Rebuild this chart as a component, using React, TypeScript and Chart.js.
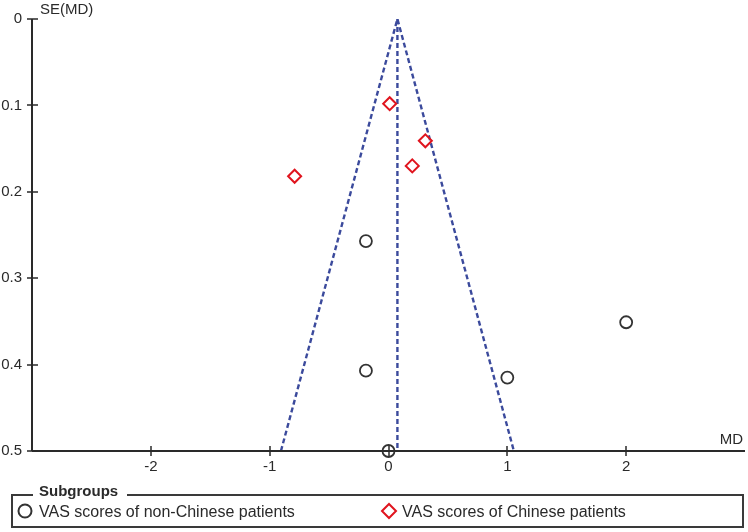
import React, { useEffect, useRef } from 'react';
import { Chart, registerables } from 'chart.js';

Chart.register(...registerables);

// ---- data ----
const nonChineseMD = [-0.19, -0.19, 0.0, 1.0, 2.0];
const nonChineseSE = [0.257, 0.407, 0.5, 0.415, 0.351];
const chineseMD = [0.01, 0.31, 0.2, -0.79];
const chineseSE = [0.098, 0.141, 0.17, 0.182];
const funnelMD = [-0.905, 0.075, 1.055];
const funnelSE = [0.5, 0, 0.5];
const pooledMD = [0.075, 0.075];
const pooledSE = [0, 0.5];
const xTickValues = [-2, -1, 0, 1, 2];
const yTickValues = [0, 0.1, 0.2, 0.3, 0.4, 0.5];
const yTickLabels = ['0', '0.1', '0.2', '0.3', '0.4', '0.5'];
const seriesLabels = ['VAS scores of non-Chinese patients', 'VAS scores of Chinese patients'];
const legendTitle = 'Subgroups';
const xTitle = 'MD';
const yTitle = 'SE(MD)';

const FONT = '"Liberation Sans", Arial, sans-serif';
const INK = '#2a2a2a';

const overlay = {
  id: 'funnelOverlay',
  afterDraw(chart: any) {
    const ctx = chart.ctx;
    const { left, right, top, bottom } = chart.chartArea;
    const xs = chart.scales.x;
    const ys = chart.scales.y;
    ctx.save();
    ctx.strokeStyle = INK;
    ctx.lineWidth = 2;
    // axes
    ctx.beginPath();
    ctx.moveTo(left, top);
    ctx.lineTo(left, bottom);
    ctx.moveTo(left, bottom);
    ctx.lineTo(right, bottom);
    ctx.stroke();
    // ticks crossing axes
    ctx.lineWidth = 1.5;
    ctx.beginPath();
    yTickValues.forEach((v) => {
      const y = Math.round(ys.getPixelForValue(v));
      ctx.moveTo(left - 5, y);
      ctx.lineTo(left + 6, y);
    });
    xTickValues.forEach((v) => {
      const x = Math.round(xs.getPixelForValue(v));
      ctx.moveTo(x, bottom - 5);
      ctx.lineTo(x, bottom + 5);
    });
    ctx.stroke();
    // axis titles
    ctx.fillStyle = INK;
    ctx.font = `15px ${FONT}`;
    ctx.textBaseline = 'middle';
    ctx.textAlign = 'left';
    ctx.fillText(yTitle, left + 8, top - 9);
    ctx.textAlign = 'right';
    ctx.fillText(xTitle, 743, bottom - 11);

    // legend box
    const bl = 12, bt = 495, br = 743, bb = 527;
    ctx.strokeStyle = '#3a3a3a';
    ctx.lineWidth = 2;
    ctx.beginPath();
    ctx.moveTo(33, bt);
    ctx.lineTo(bl, bt);
    ctx.lineTo(bl, bb);
    ctx.lineTo(br, bb);
    ctx.lineTo(br, bt);
    ctx.lineTo(127, bt);
    ctx.stroke();
    ctx.font = `bold 15px ${FONT}`;
    ctx.textAlign = 'left';
    ctx.fillText(legendTitle, 39, 492);

    const items = [
      { mx: 25, tx: 39 },
      { mx: 389, tx: 402 },
    ];
    ctx.font = `16px ${FONT}`;
    items.forEach((it, i) => {
      const ds = chart.data.datasets[i];
      const my = 511;
      ctx.strokeStyle = ds.borderColor;
      ctx.lineWidth = 2;
      ctx.beginPath();
      if (ds.pointStyle === 'rectRot') {
        const r = 7;
        ctx.moveTo(it.mx - r, my);
        ctx.lineTo(it.mx, my - r);
        ctx.lineTo(it.mx + r, my);
        ctx.lineTo(it.mx, my + r);
        ctx.closePath();
      } else {
        ctx.arc(it.mx, my, 6.5, 0, Math.PI * 2);
      }
      ctx.stroke();
      ctx.fillStyle = INK;
      ctx.fillText(seriesLabels[i], it.tx, my + 2);
    });
    ctx.restore();
  },
};

export default function App() {
  const ref = useRef<HTMLCanvasElement>(null);
  useEffect(() => {
    if (!ref.current) return;
    const dashed = {
      showLine: true,
      pointRadius: 0,
      borderColor: '#3b4a9c',
      borderWidth: 2.4,
      borderDash: [5, 3],
      fill: false,
      clip: false,
    };
    const chart = new Chart(ref.current, {
      type: 'scatter',
      data: {
        datasets: [
          {
            label: seriesLabels[0],
            data: nonChineseMD.map((x, i) => ({ x, y: nonChineseSE[i] })),
            pointStyle: 'circle',
            pointRadius: 6,
            borderColor: '#333333',
            backgroundColor: 'rgba(0,0,0,0)',
            borderWidth: 1.8,
            clip: false,
          } as any,
          {
            label: seriesLabels[1],
            data: chineseMD.map((x, i) => ({ x, y: chineseSE[i] })),
            pointStyle: 'rectRot',
            pointRadius: 6.5,
            borderColor: '#e0141e',
            backgroundColor: 'rgba(0,0,0,0)',
            borderWidth: 2,
            clip: false,
          } as any,
          {
            label: 'funnel',
            data: funnelMD.map((x, i) => ({ x, y: funnelSE[i] })),
            ...dashed,
          } as any,
          {
            label: 'pooled',
            data: pooledMD.map((x, i) => ({ x, y: pooledSE[i] })),
            ...dashed,
          } as any,
        ],
      },
      options: {
        animation: false,
        responsive: false,
        layout: { autoPadding: false, padding: { top: 19, right: 3, left: 0, bottom: 0 } },
        plugins: { legend: { display: false }, tooltip: { enabled: false } },
        scales: {
          x: {
            type: 'linear',
            min: -3,
            max: 3,
            grid: { display: false, drawTicks: false },
            border: { display: false },
            afterFit: (s: any) => { s.height = 81; s.paddingLeft = 0; s.paddingRight = 0; },
            afterBuildTicks: (s: any) => { s.ticks = xTickValues.map((v) => ({ value: v })); },
            ticks: {
              padding: 7,
              color: INK,
              font: { family: FONT, size: 15 },
              callback: (v: any) => String(v),
            },
          },
          y: {
            type: 'linear',
            reverse: true,
            min: 0,
            max: 0.5,
            grid: { display: false, drawTicks: false },
            border: { display: false },
            afterFit: (s: any) => { s.width = 32; s.paddingTop = 0; s.paddingBottom = 0; },
            afterBuildTicks: (s: any) => { s.ticks = yTickValues.map((v) => ({ value: v })); },
            ticks: {
              padding: 10,
              color: INK,
              font: { family: FONT, size: 15 },
              callback: (v: any) => yTickLabels[yTickValues.indexOf(Number(v))] ?? '',
            },
          },
        },
      } as any,
      plugins: [overlay],
    });
    return () => chart.destroy();
  }, []);
  return (
    <div style={{ position: 'fixed', left: 0, top: 0, width: 748, height: 532, background: '#fff' }}>
      <canvas ref={ref} width={748} height={532} style={{ width: 748, height: 532 }} />
    </div>
  );
}
